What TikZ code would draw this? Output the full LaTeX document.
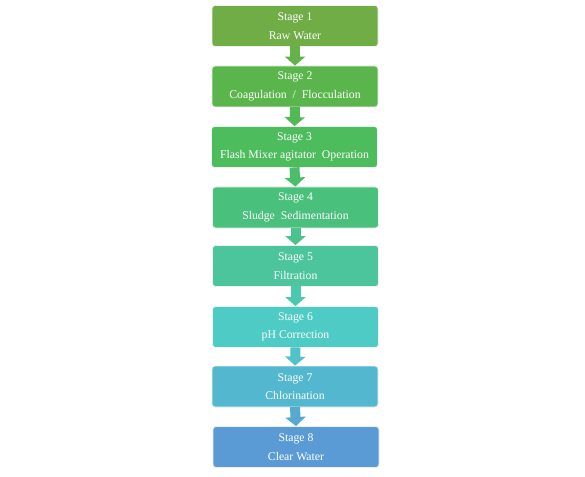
\documentclass[tikz,border=0pt]{standalone}
\usepackage{fontspec}
\setmainfont{Liberation Serif}
\usetikzlibrary{arrows.meta}
\definecolor{cA}{RGB}{112,173,71}
\definecolor{cB}{RGB}{90,182,76}
\definecolor{cC}{RGB}{77,188,92}
\definecolor{cD}{RGB}{74,192,125}
\definecolor{cE}{RGB}{76,197,156}
\definecolor{cF}{RGB}{78,203,196}
\definecolor{cG}{RGB}{84,183,208}
\definecolor{cH}{RGB}{91,155,213}
\tikzset{
  stagebox/.style={draw=white!88!gray, line width=0.8bp, rounded corners=3bp,
    minimum width=166bp, minimum height=41bp, inner sep=0pt,
    text=white, align=center, font=\fontsize{11.8}{18.5}\selectfont},
  flowarrow/.style={line width=10bp, -{Triangle[length=9bp,width=20bp]}, shorten <=-0.5bp}
}
\begin{document}
\begin{tikzpicture}[x=1bp,y=-1bp]
\useasboundingbox (0,0) rectangle (585,477);
\node[stagebox, fill=cA] (s1) at (295,26) {Stage 1\\Raw Water};
\node[stagebox, fill=cB] (s2) at (295,86.5) {Stage 2\\Coagulation\ \ /\ \ Flocculation};
\node[stagebox, fill=cC] (s3) at (294.5,147) {Stage 3\\Flash Mixer agitator\ \ Operation};
\node[stagebox, fill=cD] (s4) at (295.5,207.5) {Stage 4\\Sludge\ \ Sedimentation};
\node[stagebox, fill=cE] (s5) at (295.5,266) {Stage 5\\Filtration};
\node[stagebox, fill=cF] (s6) at (295.5,327) {Stage 6\\pH Correction};
\node[stagebox, fill=cG] (s7) at (295,386.5) {Stage 7\\Chlorination};
\node[stagebox, fill=cH] (s8) at (296,447) {Stage 8\\Clear Water};
\draw[flowarrow, draw=cA!50!cB] (s1.south) -- (s2.north);
\draw[flowarrow, draw=cB!50!cC] (s2.south) -- (s3.north);
\draw[flowarrow, draw=cC!50!cD] (s3.south) -- (s4.north);
\draw[flowarrow, draw=cD!50!cE] (s4.south) -- (s5.north);
\draw[flowarrow, draw=cE!50!cF] (s5.south) -- (s6.north);
\draw[flowarrow, draw=cF!50!cG] (s6.south) -- (s7.north);
\draw[flowarrow, draw=cG!50!cH] (s7.south) -- (s8.north);
\end{tikzpicture}
\end{document}
